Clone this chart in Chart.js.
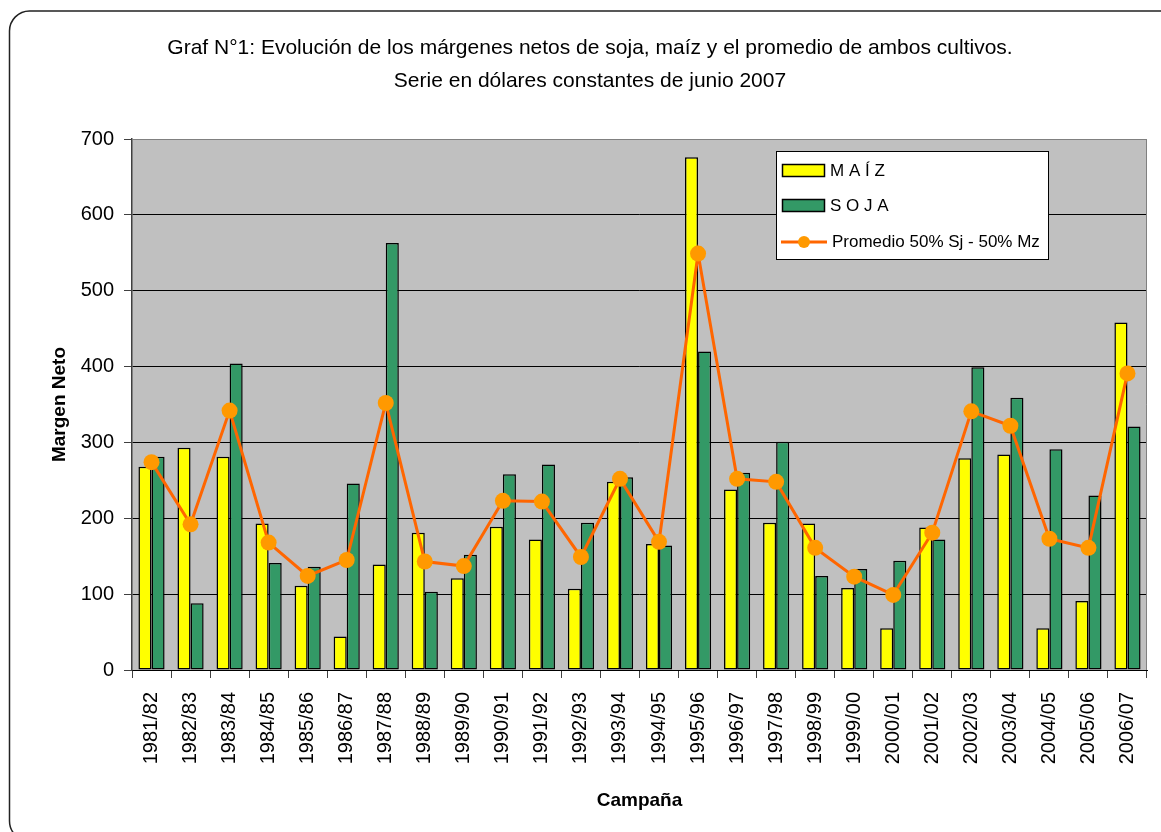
<!DOCTYPE html>
<html>
<head>
<meta charset="utf-8">
<script src="https://cdn.jsdelivr.net/npm/chart.js@4/dist/chart.umd.min.js"></script>
<style>
  html, body { margin: 0; padding: 0; background: #fff; }
  #wrap { width: 1161px; height: 832px; position: relative; }
</style>
</head>
<body>
<div id="wrap"><canvas id="chart" width="1161" height="832"></canvas></div>
<script>
// Campaigns (x axis)
const campanias = ['1981/82', '1982/83', '1983/84', '1984/85', '1985/86', '1986/87', '1987/88',
    '1988/89', '1989/90', '1990/91', '1991/92', '1992/93', '1993/94', '1994/95', '1995/96',
    '1996/97', '1997/98', '1998/99', '1999/00', '2000/01', '2001/02', '2002/03', '2003/04',
    '2004/05', '2005/06', '2006/07'];

// Net margins (US$ constant, June 2007)
const maiz = [268, 293, 281, 193, 111, 44, 139, 181, 121, 189, 172, 107, 248, 166, 676,
    238, 194, 193, 108, 55, 188, 279, 284, 55, 91, 458];
const soja = [281, 88, 404, 141, 136, 246, 563, 103, 152, 258, 271, 194, 254, 164, 420,
    260, 301, 124, 133, 144, 172, 399, 359, 291, 230, 321];
const promedio = [274, 192, 342, 168, 124, 145, 352, 143, 137, 223, 222, 149, 252, 169, 549,
    252, 248, 161, 123, 99, 181, 341, 322, 173, 161, 391];

const yTicks = [0, 100, 200, 300, 400, 500, 600, 700];

const titleLines = ['Graf N°1: Evolución de los márgenes netos de soja, maíz y el promedio de ambos cultivos.',
    'Serie en dólares constantes de junio 2007'];

const FONT = "'Liberation Sans', Arial, sans-serif";

// Grey plot background, outer rounded frame and the two-line title
const backgroundPlugin = {
    id: 'background',
    beforeDraw(chart) {
        const ctx = chart.ctx;
        const a = chart.chartArea;
        ctx.save();
        ctx.fillStyle = '#fff';
        ctx.fillRect(0, 0, chart.width, chart.height);
        // outer frame
        ctx.strokeStyle = '#222';
        ctx.lineWidth = 1.5;
        ctx.beginPath();
        ctx.roundRect(9.5, 11, 1180, 830, 20);
        ctx.stroke();
        // title
        ctx.fillStyle = '#000';
        ctx.font = '21px ' + FONT;
        ctx.textAlign = 'center';
        ctx.textBaseline = 'middle';
        ctx.fillText(titleLines[0], 590, 48);
        ctx.fillText(titleLines[1], 590, 81);
        // plot area
        ctx.fillStyle = '#C0C0C0';
        ctx.fillRect(a.left, a.top, a.right - a.left, a.bottom - a.top);
        ctx.restore();
    },
    afterDatasetsDraw(chart) {
        const ctx = chart.ctx;
        const a = chart.chartArea;
        ctx.save();
        ctx.strokeStyle = '#808080';
        ctx.lineWidth = 1;
        ctx.beginPath();
        ctx.moveTo(a.left, a.top + 0.5);
        ctx.lineTo(a.right - 0.5, a.top + 0.5);
        ctx.lineTo(a.right - 0.5, a.bottom);
        ctx.stroke();
        ctx.restore();
    }
};

// Legend box inside the plot area (top right)
const legendBoxPlugin = {
    id: 'legendBox',
    afterDraw(chart) {
        const ctx = chart.ctx;
        const a = chart.chartArea;
        const x0 = a.right - 371, y0 = a.top + 12, w = 272, h = 108;
        ctx.save();
        ctx.fillStyle = '#fff';
        ctx.fillRect(x0, y0, w, h);
        ctx.strokeStyle = '#000';
        ctx.lineWidth = 1;
        ctx.strokeRect(x0 + 0.5, y0 + 0.5, w, h);

        ctx.font = '17px ' + FONT;
        ctx.textBaseline = 'middle';
        ctx.lineWidth = 1.5;

        // MAÍZ
        ctx.fillStyle = '#FFFF00';
        ctx.fillRect(x0 + 6.5, y0 + 13.5, 42, 12);
        ctx.strokeRect(x0 + 6.5, y0 + 13.5, 42, 12);
        ctx.fillStyle = '#000';
        ctx.fillText('M A Í Z', x0 + 54, y0 + 20);

        // SOJA
        ctx.fillStyle = '#339966';
        ctx.fillRect(x0 + 6.5, y0 + 48.5, 42, 12);
        ctx.strokeRect(x0 + 6.5, y0 + 48.5, 42, 12);
        ctx.fillStyle = '#000';
        ctx.fillText('S O J A', x0 + 54, y0 + 55);

        // Promedio
        const ly = y0 + 91;
        ctx.strokeStyle = '#FF6600';
        ctx.lineWidth = 3;
        ctx.beginPath();
        ctx.moveTo(x0 + 5, ly);
        ctx.lineTo(x0 + 51, ly);
        ctx.stroke();
        ctx.fillStyle = '#FF9900';
        ctx.beginPath();
        ctx.arc(x0 + 28, ly, 6, 0, Math.PI * 2);
        ctx.fill();
        ctx.fillStyle = '#000';
        ctx.fillText('Promedio 50% Sj - 50% Mz', x0 + 56, ly);
        ctx.restore();
    }
};

const ctx = document.getElementById('chart').getContext('2d');
new Chart(ctx, {
    type: 'bar',
    data: {
        labels: campanias,
        datasets: [{
            type: 'line',
            label: 'Promedio 50% Sj - 50% Mz',
            data: promedio,
            borderColor: '#FF6600',
            borderWidth: 3,
            pointBackgroundColor: '#FF9900',
            pointBorderColor: '#FF9900',
            pointRadius: 8,
            pointBorderWidth: 0,
            tension: 0,
            order: 0
        }, {
            label: 'M A Í Z',
            data: maiz,
            backgroundColor: '#FFFF00',
            borderColor: '#000',
            borderWidth: 1.5,
            borderSkipped: false,
            barPercentage: 1.0,
            categoryPercentage: 0.67,
            order: 1
        }, {
            label: 'S O J A',
            data: soja,
            backgroundColor: '#339966',
            borderColor: '#000',
            borderWidth: 1.5,
            borderSkipped: false,
            barPercentage: 1.0,
            categoryPercentage: 0.67,
            order: 1
        }]
    },
    options: {
        responsive: false,
        animation: false,
        layout: { padding: { left: 0, right: 14, top: 139, bottom: 0 } },
        plugins: {
            legend: { display: false },
            tooltip: { enabled: false },
            title: { display: false }
        },
        scales: {
            x: {
                offset: true,
                grid: {
                    offset: true,
                    drawOnChartArea: false,
                    drawTicks: true,
                    tickLength: 8,
                    color: '#404040'
                },
                border: { color: '#000', width: 1 },
                ticks: {
                    color: '#000',
                    font: { family: FONT, size: 20 },
                    minRotation: 90,
                    maxRotation: 90,
                    padding: 14,
                    autoSkip: false
                },
                title: {
                    display: true,
                    text: 'Campaña',
                    color: '#000',
                    font: { family: FONT, size: 19, weight: 'bold' },
                    padding: { top: 0, bottom: 20 }
                },
                afterFit(scale) {
                    scale.height = 162;
                    scale.paddingLeft = 0;
                    scale.paddingRight = 0;
                }
            },
            y: {
                min: 0,
                max: 700,
                afterBuildTicks(scale) { scale.ticks = yTicks.map(v => ({ value: v })); },
                grid: {
                    color: (c) => c.tick && c.tick.value === 700 ? '#808080' : '#000',
                    lineWidth: 1,
                    drawTicks: true,
                    tickLength: 8,
                    tickColor: '#404040'
                },
                border: { color: '#404040', width: 1.5 },
                ticks: {
                    color: '#000',
                    font: { family: FONT, size: 20 },
                    padding: 10
                },
                title: {
                    display: true,
                    text: 'Margen Neto',
                    color: '#000',
                    font: { family: FONT, size: 19, weight: 'bold' },
                    padding: { top: 48, bottom: 0 }
                },
                afterFit(scale) {
                    scale.width = 132;
                    scale.paddingTop = 0;
                    scale.paddingBottom = 0;
                }
            }
        }
    },
    plugins: [backgroundPlugin, legendBoxPlugin]
});
</script>
</body>
</html>
